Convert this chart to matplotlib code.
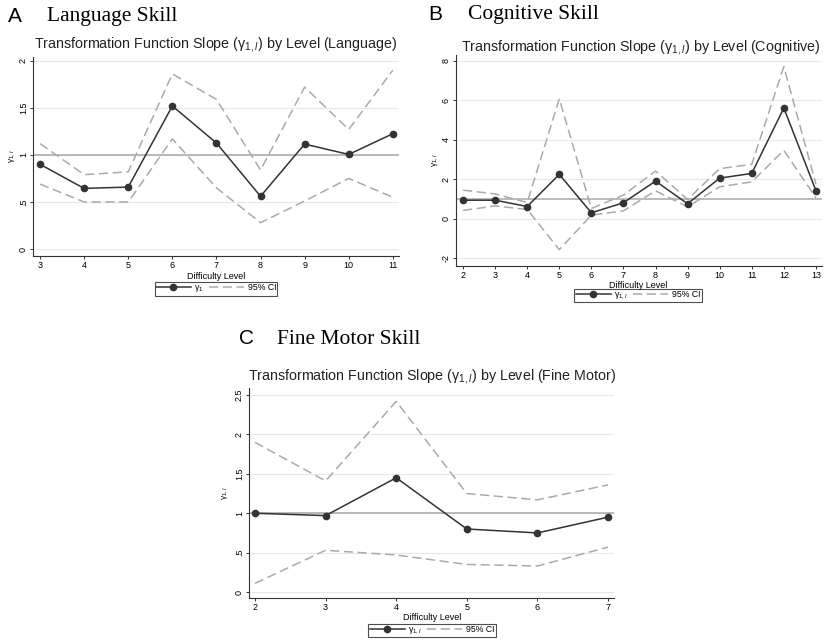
import numpy as np
import matplotlib
matplotlib.use('Agg')
from matplotlib import pyplot as plt

plt.rcParams['font.family'] = ['Liberation Sans', 'DejaVu Sans']
plt.rcParams['mathtext.fontset'] = 'custom'
plt.rcParams['mathtext.rm'] = 'Liberation Sans'
plt.rcParams['mathtext.it'] = 'Liberation Sans:italic'

#  -- datos --
lang_lvl = [3, 4, 5, 6, 7, 8, 9, 10, 11]
lang_g = [0.90, 0.644, 0.658, 1.52, 1.126, 0.56, 1.115, 1.005, 1.225]
lang_hi = [1.12, 0.79, 0.82, 1.86, 1.59, 0.84, 1.72, 1.27, 1.90]
lang_lo = [0.69, 0.50, 0.50, 1.17, 0.65, 0.28, 0.51, 0.75, 0.55]

cog_lvl = [2, 3, 4, 5, 6, 7, 8, 9, 10, 11, 12, 13]
cog_g = [0.93, 0.93, 0.61, 2.24, 0.29, 0.80, 1.90, 0.75, 2.05, 2.29, 5.61, 1.42]
cog_hi = [1.44, 1.25, 0.81, 6.08, 0.51, 1.19, 2.41, 0.97, 2.53, 2.75, 7.71, 1.75]
cog_lo = [0.41, 0.64, 0.46, -1.58, 0.17, 0.39, 1.41, 0.59, 1.61, 1.86, 3.46, 1.05]

fm_lvl = [2, 3, 4, 5, 6, 7]
fm_g = [1.00, 0.97, 1.45, 0.80, 0.75, 0.95]
fm_hi = [1.90, 1.41, 2.42, 1.25, 1.17, 1.36]
fm_lo = [0.11, 0.53, 0.47, 0.35, 0.33, 0.57]

W, H = 829, 642
fig = plt.figure(figsize=(W / 100, H / 100), dpi=100)


def px(x, y):
    return x / W, 1 - y / H


def panel(rect, lvl, g, hi, lo, yticks, ylabs, xlim, ylim, leg_lab, ylab_x):
    ax = fig.add_axes(rect)
    for t in yticks:
        ax.axhline(t, color='#e8e8e8', lw=0.8, zorder=0)
    ax.axhline(1, color='#a8a8a8', lw=1.1, zorder=1)
    ax.plot(lvl, g, '-o', color='#333333', lw=1.1, ms=4.5, label=leg_lab, zorder=3)
    ax.plot(lvl, hi, '--', color='#aaaaaa', lw=1.1, dashes=(6, 3), label='95% CI', zorder=2)
    ax.plot(lvl, lo, '--', color='#aaaaaa', lw=1.1, dashes=(6, 3), zorder=2)
    ax.set_xlim(xlim)
    ax.set_ylim(ylim)
    ax.set_xticks(lvl)
    ax.set_yticks(yticks)
    ax.set_yticklabels(ylabs, rotation=90, va='center')
    ax.tick_params(labelsize=6.5, length=2.5, width=0.7, color='#333333', pad=1.2)
    for s in ['top', 'right']:
        ax.spines[s].set_visible(False)
    for s in ['left', 'bottom']:
        ax.spines[s].set_color('#333333')
        ax.spines[s].set_linewidth(0.8)
    ax.set_ylabel('γ$_{1,l}$', fontsize=6)
    ax.yaxis.set_label_coords(ylab_x, 0.5)
    return ax


#  -------------- Panel A
axA = panel([33 / W, 1 - 256 / H, 366 / W, 199 / H], lang_lvl, lang_g, lang_hi, lang_lo,
            [0, 0.5, 1, 1.5, 2], ['0', '.5', '1', '1.5', '2'], (2.84, 11.14), (-0.074, 2.04),
            'γ$_{1}$', -0.045)
#  -------------- Panel B
axB = panel([456 / W, 1 - 266 / H, 366 / W, 211 / H], cog_lvl, cog_g, cog_hi, cog_lo,
            [-2, 0, 2, 4, 6, 8], ['-2', '0', '2', '4', '6', '8'], (1.78, 13.19), (-2.41, 8.3),
            'γ$_{1,l}$', -0.044)
#  -------------- Panel C
axC = panel([249 / W, 1 - 598 / H, 365 / W, 210 / H], fm_lvl, fm_g, fm_hi, fm_lo,
            [0, 0.5, 1, 1.5, 2, 2.5], ['0', '.5', '1', '1.5', '2', '2.5'], (1.915, 7.085), (-0.076, 2.59),
            'γ$_{1,l}$', -0.052)

titles = [(216, 44, 'Language'), (641, 47, 'Cognitive'), (432, 377, 'Fine Motor')]
for x, y, name in titles:
    fig.text(*px(x, y), 'Transformation Function Slope (γ$_{1,l}$) by Level (%s)' % name,
             ha='center', va='center', fontsize=10.3, color='#222222')

labels = [(15, 16, 'A', 47, 'Language Skill'), (435, 15, 'B', 468, 'Cognitive Skill'),
          (247, 339, 'C', 277, 'Fine Motor Skill')]
for x, y, letter, x2, name in labels:
    fig.text(*px(x, y), letter, ha='center', va='center', fontsize=15)
    fig.text(*px(x2, y), name, ha='left', va='center', fontsize=15.5, family='Liberation Serif')

xlabs = [(216, 276.5, 289, axA), (638, 285, 295.5, axB), (432, 617.5, 630.5, axC)]
for x, y, yleg, ax in xlabs:
    fig.text(*px(x, y), 'Difficulty Level', ha='center', va='center', fontsize=6.5)
    leg = ax.legend(loc='center', bbox_to_anchor=px(x, yleg), bbox_transform=fig.transFigure,
                    ncol=2, fontsize=6.3, frameon=True, fancybox=False, edgecolor='#222222',
                    borderpad=0.15, handlelength=4.0, columnspacing=0.6, handletextpad=0.4)
    leg.get_frame().set_linewidth(0.8)

fig.savefig('out.png', dpi=100)
